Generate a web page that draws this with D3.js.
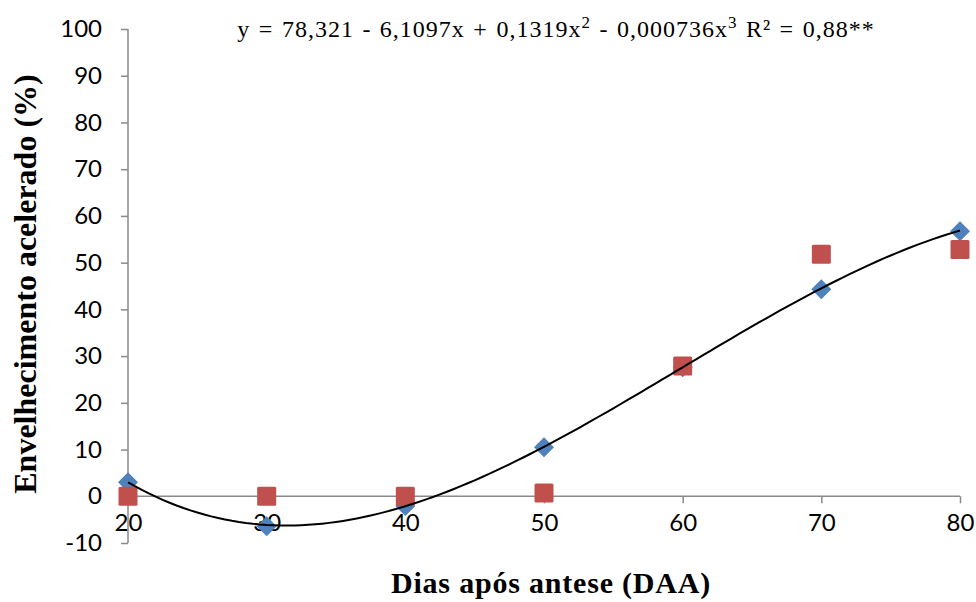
<!DOCTYPE html>
<html>
<head>
<meta charset="utf-8">
<script src="https://cdn.jsdelivr.net/npm/d3@7"></script>
<style>
  body { margin: 0; background: #fff; }
</style>
</head>
<body>
<div id="chart"><svg width="976" height="602"></svg></div>
<script>
var days = [20, 30, 40, 50, 60, 70, 80];
var serieA = [3.0, -6.4, -2.1, 10.5, 27.6, 44.3, 56.7];   // losangos azuis
var serieB = [0.0, 0.0, 0.0, 0.7, 27.9, 51.8, 52.8];      // quadrados vermelhos
var coefs = [78.321, -6.1097, 0.1319, -0.000736];          // y = a + bx + cx2 + dx3
var yTicks = [-10, 0, 10, 20, 30, 40, 50, 60, 70, 80, 90, 100];
var xTicks = [20, 30, 40, 50, 60, 70, 80];

var svg = d3.select("#chart").select("svg");
var axisColor = "#8a8a8a";
var tickFont = "Lato, 'Open Sans', sans-serif";
var serif = "'Liberation Serif', 'Times New Roman', serif";

var x = d3.scaleLinear().domain([20, 80]).range([128, 960]);
var y = d3.scaleLinear().domain([-10, 100]).range([543, 29]);

// eixo y
var gy = svg.append("g").attr("transform", "translate(128,0)")
    .call(d3.axisLeft(y).tickValues(yTicks).tickSize(7).tickPadding(19).tickFormat(function (d) { return String(d); }));
gy.select(".domain").attr("stroke", axisColor).attr("stroke-width", 1.5).attr("d", "M0," + y(-10) + "V" + y(100));
gy.selectAll(".tick line").attr("stroke", axisColor).attr("stroke-width", 1.5);
gy.selectAll(".tick text").style("font-family", tickFont).style("font-size", "24px").attr("fill", "#000");

// eixo x (na linha do zero)
var gx = svg.append("g").attr("transform", "translate(0," + y(0) + ")")
    .call(d3.axisBottom(x).tickValues(xTicks).tickSize(7).tickPadding(11).tickFormat(function (d) { return String(d); }));
gx.select(".domain").attr("stroke", axisColor).attr("stroke-width", 1.5).attr("d", "M" + x(20) + ",0H" + x(80));
gx.selectAll(".tick line").attr("stroke", axisColor).attr("stroke-width", 1.5);
gx.selectAll(".tick text").style("font-family", tickFont).style("font-size", "24px").attr("fill", "#000");

// losangos
svg.selectAll(".dm").data(days).enter().append("path")
    .attr("transform", function (d, i) { return "translate(" + x(d) + "," + y(serieA[i]) + ")"; })
    .attr("d", "M0,-10L10,0L0,10L-10,0Z")
    .style("fill", "#4F81BD");

// quadrados
svg.selectAll(".sq").data(days).enter().append("rect")
    .attr("x", function (d) { return x(d) - 9.5; })
    .attr("y", function (d, i) { return y(serieB[i]) - 9.5; })
    .attr("width", 19).attr("height", 19).attr("rx", 1.5)
    .style("fill", "#C0504D");

// linha de tendencia (polinomio da equacao)
function poly(v) {
    return coefs[0] + coefs[1] * v + coefs[2] * v * v + coefs[3] * v * v * v;
}
var trend = d3.range(20, 80.01, 0.5);
svg.append("path")
    .datum(trend)
    .attr("fill", "none")
    .attr("stroke", "#000")
    .attr("stroke-width", 2)
    .attr("d", d3.line().x(function (d) { return x(d); }).y(function (d) { return y(poly(d)); }));

// titulos
svg.append("text")
    .attr("transform", "translate(36,284) rotate(-90)")
    .attr("text-anchor", "middle")
    .style("font-family", serif)
    .style("font-weight", "bold").style("font-size", "32px")
    .text("Envelhecimento acelerado (%)");

svg.append("text")
    .attr("x", 551).attr("y", 593)
    .attr("text-anchor", "middle")
    .style("font-family", serif)
    .style("font-weight", "bold").style("font-size", "30px")
    .style("letter-spacing", "0.8px")
    .text("Dias após antese (DAA)");

var eq = svg.append("text")
    .attr("x", 556).attr("y", 37)
    .attr("text-anchor", "middle")
    .style("font-family", serif)
    .style("font-size", "24px")
    .style("letter-spacing", "1px")
    .style("word-spacing", "1.5px");
eq.append("tspan").text("y = 78,321 - 6,1097x + 0,1319x");
eq.append("tspan").attr("dy", -9).style("font-size", "17px").text("2");
eq.append("tspan").attr("dy", 9).text(" - 0,000736x");
eq.append("tspan").attr("dy", -9).style("font-size", "17px").text("3");
eq.append("tspan").attr("dy", 9).text(" R² = 0,88**");
</script>
</body>
</html>
